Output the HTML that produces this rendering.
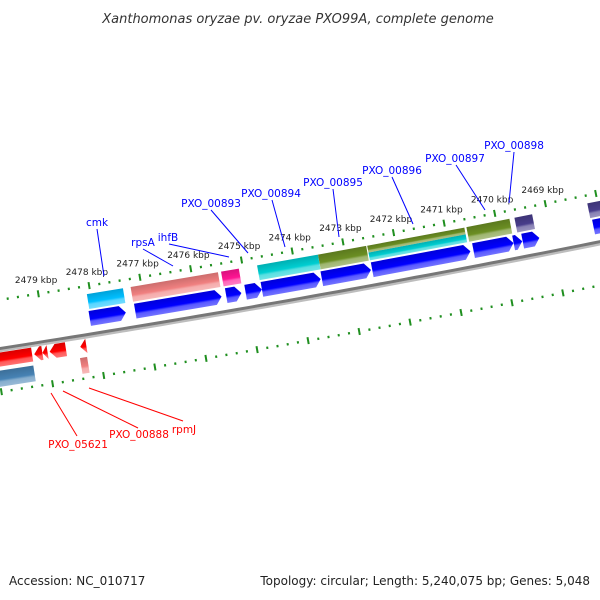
<!DOCTYPE html>
<html><head><meta charset="utf-8"><style>
html,body{margin:0;padding:0;background:#fff;}
svg{display:block;font-family:"DejaVu Sans","Liberation Sans",sans-serif;}
</style></head><body>
<svg id="chart" width="600" height="600" viewBox="0 0 600 600" xmlns="http://www.w3.org/2000/svg">
<defs id="defs"></defs>
<text x="298" y="23" text-anchor="middle" font-size="13" font-style="italic" fill="#333">Xanthomonas oryzae pv. oryzae PXO99A, complete genome</text>
<g id="backbone"></g>
<g id="rulers"></g>
<g id="features"></g>
<g id="labels"></g>
<text x="9" y="585" font-size="12" fill="#222">Accession: NC_010717</text>
<text x="590" y="585" text-anchor="end" font-size="12" fill="#222">Topology: circular; Length: 5,240,075 bp; Genes: 5,048</text>
</svg>
<script>
// ---- data (kbp positions) ----
const tickKbp = [2467,2468,2469,2470,2471,2472,2473,2474,2475,2476,2477,2478,2479,2480,2481];
const tickLabels = ["2469 kbp","2470 kbp","2471 kbp","2472 kbp","2473 kbp","2474 kbp","2475 kbp","2476 kbp","2477 kbp","2478 kbp","2479 kbp"];
const tickLabelKbp = [2469,2470,2471,2472,2473,2474,2475,2476,2477,2478,2479];
// forward strand COG boxes: start, end, color
const fwdBoxStart = [2478.07,2477.21,2475.43,2474.72,2473.52,2470.59,2469.64,2468.2];
const fwdBoxEnd   = [2477.36,2475.49,2475.08,2473.52,2472.57,2469.74,2469.29,2467.79];
const fwdBoxColor = ["#00BFFF","#F08080","#FF1493","#00CED1","#6B8E23","#6B8E23","#483D8B","#483D8B"];
// split box (olive top, cyan bottom)
const splitStart = [2472.55];
const splitEnd = [2470.63];
// forward CDS arrows
const fwdCdsStart = [2478.09,2477.2,2475.41,2475.03,2474.71,2473.53,2472.54,2470.54,2469.75,2469.57,2468.17];
const fwdCdsEnd   = [2477.38,2475.5,2475.11,2474.71,2473.55,2472.56,2470.6,2469.75,2469.58,2469.24,2467.84];
// reverse CDS arrows
const revCdsStart = [2480.39,2479.26,2479.1,2478.96,2478.36];
const revCdsEnd   = [2479.3,2479.1,2479.0,2478.64,2478.24];
// reverse boxes
const revBoxStart = [2480.6,2478.4];
const revBoxEnd   = [2479.31,2478.26];
const revBoxColor = ["#4682B4","#F08080"];

// ---- geometry ----
const R = 14000, t0 = Math.atan(-0.178), B0 = [300.6,298.3], kPer = 51.5/(R-48);
const u0 = [Math.sin(t0), -Math.cos(t0)];
const C = [B0[0] + R*u0[0], B0[1] + R*u0[1]];
function tAt(p){ return t0 - (2474 - p)*kPer; }
function pos(p,d){ const t=tAt(p); return [C[0]-(R-d)*Math.sin(t), C[1]+(R-d)*Math.cos(t)]; }
function deg(p){ return tAt(p)*180/Math.PI; }
const NS="http://www.w3.org/2000/svg";
function mk(tag,attrs,parent){ const e=document.createElementNS(NS,tag); for(const k in attrs) e.setAttribute(k,attrs[k]); parent.appendChild(e); return e; }
const defs=document.getElementById('defs');
const gradCache={};
function shade(hex,f){ let n=parseInt(hex.slice(1),16); let r=n>>16,g=(n>>8)&255,b=n&255;
  if(f<0){r*=1+f;g*=1+f;b*=1+f;} else {r+=(255-r)*f;g+=(255-g)*f;b+=(255-b)*f;}
  return "rgb("+Math.round(r)+","+Math.round(g)+","+Math.round(b)+")"; }
function grad(c){ if(gradCache[c]) return gradCache[c]; const id="g"+c.slice(1);
  const lg=mk('linearGradient',{id:id,x1:0,y1:0,x2:0,y2:1},defs);
  mk('stop',{offset:"0",'stop-color':shade(c,-0.15)},lg);
  mk('stop',{offset:"0.55",'stop-color':c},lg);
  mk('stop',{offset:"0.7",'stop-color':shade(c,0.35)},lg);
  mk('stop',{offset:"1",'stop-color':shade(c,0.45)},lg);
  gradCache[c]="url(#"+id+")"; return gradCache[c]; }

// backbone
const bb=document.getElementById('backbone');
function arcPath(d){ let s=""; for(let p=2482;p>=2466;p-=0.25){ const q=pos(p,d); s+=(s?"L":"M")+q[0].toFixed(1)+","+q[1].toFixed(1); } return s; }
const bs=mk('path',{d:arcPath(-2.5),stroke:"#bdbdbd",'stroke-width':2.5,fill:"none"},bb);


const bl=mk('path',{d:arcPath(0),stroke:"#777",'stroke-width':3,fill:"none"},bb);



// rulers
const rg=document.getElementById('rulers');
function drawRuler(d,name){
  const g=mk('g',{},rg);
  
  
  for(let i=0;i<tickKbp.length-1;i++){
    for(let j=0;j<5;j++){
      const p=tickKbp[i]+j*0.2, q=pos(p,d);
      if(j===0){
        const e=mk('rect',{x:-1,y:-3.5,width:2,height:7,fill:"#1f8f1f",transform:`translate(${q[0].toFixed(1)},${q[1].toFixed(1)}) rotate(${deg(p).toFixed(2)})`},g);
        
        
      } else {
        const e=mk('rect',{x:-1,y:-1.2,width:2,height:2.4,fill:"#1f8f1f",transform:`translate(${q[0].toFixed(1)},${q[1].toFixed(1)}) rotate(${deg(p).toFixed(2)})`},g);
        
        
      }
    }
  }
}
drawRuler(48,'upper-ruler');
drawRuler(-43,'lower-ruler');
for(let i=0;i<tickLabels.length;i++){
  const q=pos(tickLabelKbp[i],62);
  const e=mk('text',{x:q[0].toFixed(1),y:(q[1]+3).toFixed(1),'text-anchor':"middle",'font-size':"9",fill:"#222"},rg);
  e.textContent=tickLabels[i];
  
  
}

// features
const fg=document.getElementById('features');
function feature(p1,p2,d1,d2,color,dir,name){
  const mid=(p1+p2)/2, q=pos(mid,(d1+d2)/2);
  const len=(p1-p2)*51.5, h=d2-d1, L=-len/2, Rr=len/2, top=-h/2, bot=h/2;
  let path;
  const hl=Math.min(6,len);
  if(dir>0) path=`M${L},${top}L${Rr-hl},${top}L${Rr},0L${Rr-hl},${bot}L${L},${bot}Z`;
  else if(dir<0) path=`M${Rr},${top}L${L+hl},${top}L${L},0L${L+hl},${bot}L${Rr},${bot}Z`;
  else path=`M${L},${top}L${Rr},${top}L${Rr},${bot}L${L},${bot}Z`;
  const e=mk('path',{d:path,fill:grad(color),transform:`translate(${q[0].toFixed(1)},${q[1].toFixed(1)}) rotate(${deg(mid).toFixed(2)})`},fg);
  
  
}
for(let i=0;i<fwdBoxStart.length;i++) feature(fwdBoxStart[i],fwdBoxEnd[i],25,40,fwdBoxColor[i],0,'forward-cog-box');
for(let i=0;i<splitStart.length;i++){
  feature(splitStart[i],splitEnd[i],33,40,"#6B8E23",0,'forward-cog-box-top');
  feature(splitStart[i],splitEnd[i],25,33,"#00CED1",0,'forward-cog-box-bottom');
}
for(let i=0;i<fwdCdsStart.length;i++) feature(fwdCdsStart[i],fwdCdsEnd[i],8,23,"#0000FF",1,'forward-cds-arrow');
for(let i=0;i<revCdsStart.length;i++) feature(revCdsStart[i],revCdsEnd[i],-18,-4,"#FF0000",-1,'reverse-cds-arrow');
for(let i=0;i<revBoxStart.length;i++) feature(revBoxStart[i],revBoxEnd[i],-38,-22,revBoxColor[i],0,'reverse-cog-box');

// gene labels with leader lines
const lg=document.getElementById('labels');
const labelText=["cmk","rpsA","ihfB","PXO_00893","PXO_00894","PXO_00895","PXO_00896","PXO_00897","PXO_00898","PXO_05621","PXO_00888","rpmJ"];
const labelColor=["#00f","#00f","#00f","#00f","#00f","#00f","#00f","#00f","#00f","#f00","#f00","#f00"];
const labelXY=[[97,226],[143,246],[168,241],[211,207],[271,197],[333,186],[392,174],[455,162],[514,149],[78,448],[139,438],[184,433]];
const lineXY=[[97,229,104,276],[143,249,173,266],[169,244,229,257],[211,210,248,253],[272,200,285,247],[333,189,339,237],[392,177,413,224],[456,165,485,210],[514,152,509,203],[51,393,77,436],[63,391,138,428],[89,388,183,421]];
for(let i=0;i<labelText.length;i++){
  const l=lineXY[i];
  const ln=mk('line',{x1:l[0],y1:l[1],x2:l[2],y2:l[3],stroke:labelColor[i],'stroke-width':1},lg);
  
  
  const t=mk('text',{x:labelXY[i][0],y:labelXY[i][1],'text-anchor':"middle",'font-size':"10.5",fill:labelColor[i]},lg);
  t.textContent=labelText[i];
  
  
}
</script>
</body></html>
